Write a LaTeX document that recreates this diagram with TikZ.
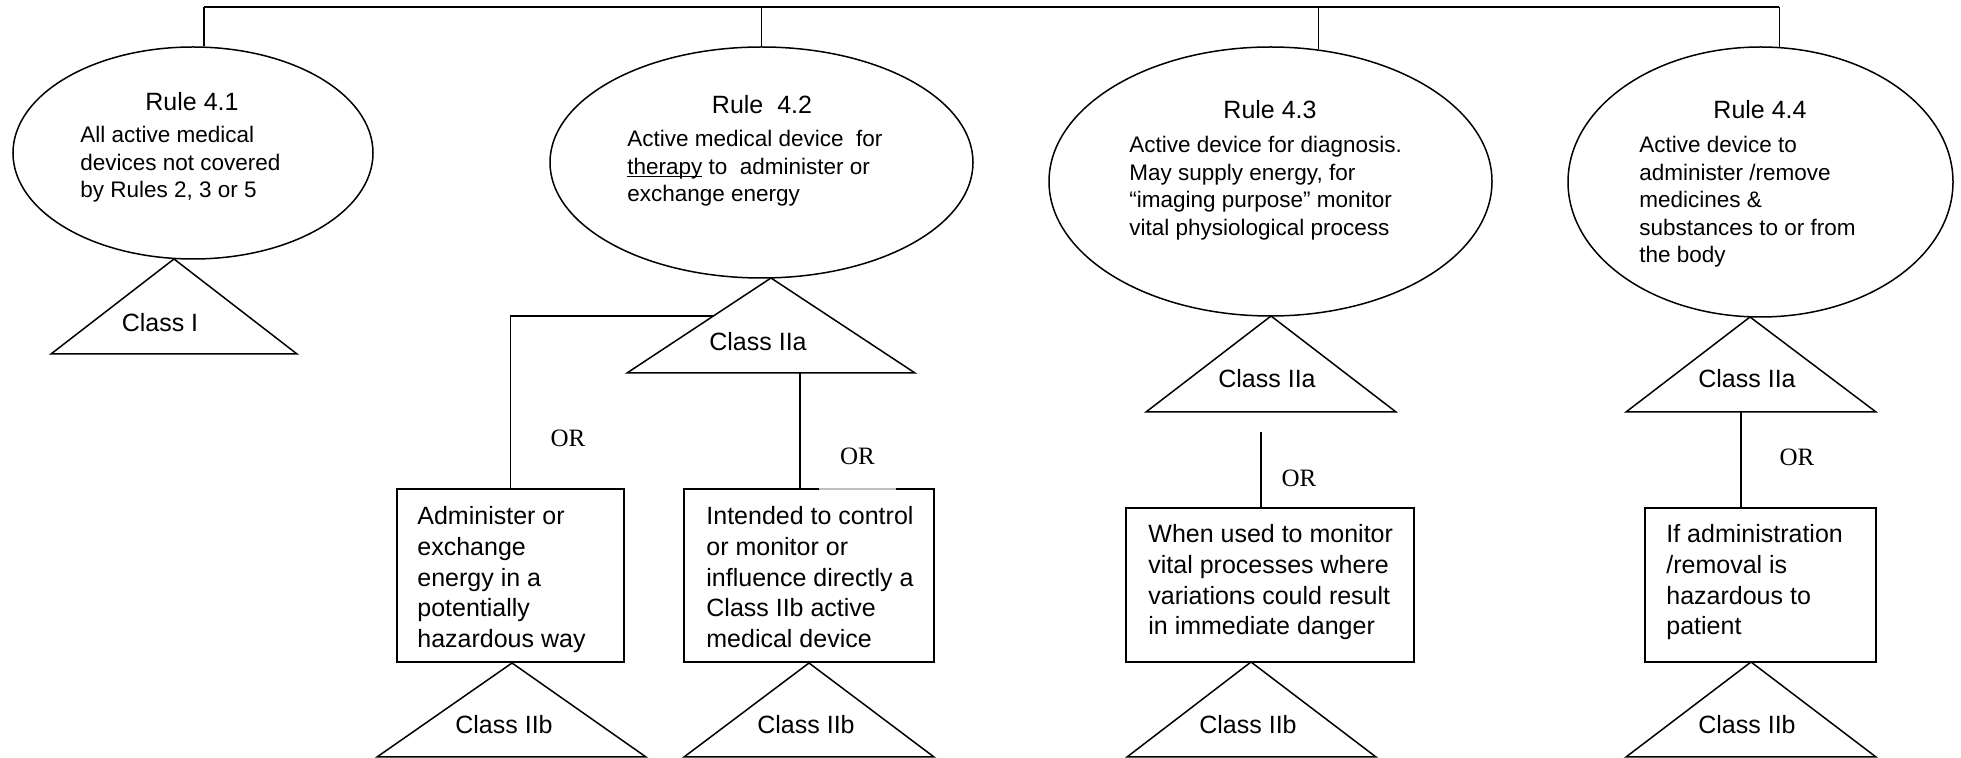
\documentclass[tikz,border=0pt]{standalone}
\usepackage{fontspec}
\setmainfont{Liberation Sans}
\newfontfamily\orfont{Liberation Serif}
\usetikzlibrary{shapes.geometric,calc}

\tikzset{
  link/.style={line width=0.75pt},
  busline/.style={line width=1.1pt},
  rulebubble/.style={draw, ellipse, line width=0.75pt, inner sep=0pt},
  outcome/.style={draw, rectangle, line width=0.75pt, inner sep=0pt},
  classtri/.style={draw, line width=0.75pt, line join=miter},
  ruletitle/.style={inner sep=0pt, anchor=base, font=\fontsize{12.5}{15}\selectfont},
  ruletext/.style={inner sep=0pt, anchor=base west, font=\fontsize{11.25}{13.75}\selectfont},
  boxtext/.style={inner sep=0pt, anchor=base west, font=\fontsize{12.5}{15.3}\selectfont},
  classname/.style={inner sep=0pt, anchor=base, font=\fontsize{12.5}{15}\selectfont},
  orword/.style={inner sep=0pt, anchor=base, font=\orfont\fontsize{12.5}{15}\selectfont},
}
% left-aligned block whose baseline is that of its first line
\newcommand\blocklines[1]{\parbox[t]{160pt}{\raggedright #1}}
% word underlined just below the baseline, crossing the descenders
\newcommand\wordline[1]{\leavevmode\setbox0\hbox{#1}\rlap{\rule[-1.3pt]{\wd0}{0.6pt}}#1}

\begin{document}
\begin{tikzpicture}[x=0.5pt, y=-0.5pt]
  \fill[white] (0,0) rectangle (1961,758);
  \useasboundingbox (0,0) rectangle (1961,758);

  % rule bubbles
  \node[rulebubble, minimum width=180pt,   minimum height=106pt]   (e1) at (193,153) {};
  \node[rulebubble, minimum width=211.5pt, minimum height=115.5pt] (e2) at (761.5,162.5) {};
  \node[rulebubble, minimum width=221.5pt, minimum height=134.5pt] (e3) at (1270.5,181.5) {};
  \node[rulebubble, minimum width=192.5pt, minimum height=135pt]   (e4) at (1760.5,182) {};

  % top bus and the drops to each rule
  \coordinate (busy) at (0,7);
  \draw[busline] (e1.84 |- busy) -- (e4.82 |- busy);
  \draw[link] (e1.84 |- busy) -- (e1.84);
  \draw[link] (e2.90 |- busy) -- (e2.90);
  \draw[link] (e3.70 |- busy) -- (e3.70);
  \draw[link] (e4.82 |- busy) -- (e4.82);

  % rule texts
  \node[ruletitle] (e1t) at (192,111) {Rule 4.1};
  \node[ruletext]  (e1b) at (80,143) {\blocklines{All active medical\\devices not covered\\by Rules 2, 3 or 5}};
  \node[ruletitle] (e2t) at (762,114) {Rule~~4.2};
  \node[ruletext]  (e2b) at (627,147) {\blocklines{Active medical device~~for\\\wordline{therapy} to~~administer or\\exchange energy}};
  \node[ruletitle] (e3t) at (1270,119) {Rule 4.3};
  \node[ruletext]  (e3b) at (1129,153) {\blocklines{Active device for diagnosis.\\May supply energy, for\\“imaging purpose” monitor\\vital physiological process}};
  \node[ruletitle] (e4t) at (1760,119) {Rule 4.4};
  \node[ruletext]  (e4b) at (1639,153) {\blocklines{Active device to\\administer /remove\\medicines \&\\substances to or from\\the body}};

  % class triangles under the rules
  \coordinate (t1) at (174,259);
  \coordinate (t2) at (771,278);
  \coordinate (t3) at (1271,316);
  \coordinate (t4) at (1750,317);
  \draw[classtri] (t1) -- ++(-123,95) -- ++(246,0) -- cycle;
  \draw[classtri] (t2) -- ++(-144,95) -- ++(288,0) -- cycle;
  \draw[classtri] (t3) -- ++(-125,96) -- ++(250,0) -- cycle;
  \draw[classtri] (t4) -- ++(-124,95) -- ++(250,0) -- cycle;
  \node[classname] (c1) at (160,332)  {Class I};
  \node[classname] (c2) at (758,351)  {Class IIa};
  \node[classname] (c3) at (1267,388) {Class IIa};
  \node[classname] (c4) at (1747,388) {Class IIa};

  % escalation boxes
  \node[outcome, minimum width=113.5pt, minimum height=86.5pt] (b1) at (510.5,575.5) {};
  \node[outcome, minimum width=125pt,   minimum height=86.5pt] (b2) at (809,575.5) {};
  \node[outcome, minimum width=144pt,   minimum height=77pt]   (b3) at (1270,585) {};
  \node[outcome, minimum width=115.5pt, minimum height=77pt]   (b4) at (1760.5,585) {};

  \node[boxtext] (b1x) at (417,525)  {\blocklines{Administer or\\exchange\\energy in a\\potentially\\hazardous way}};
  \node[boxtext] (b2x) at (706,525)  {\blocklines{Intended to control\\or monitor or\\influence directly a\\Class IIb active\\medical device}};
  \node[boxtext] (b3x) at (1148,543) {\blocklines{When used to monitor\\vital processes where\\variations could result\\in immediate danger}};
  \node[boxtext] (b4x) at (1666,543) {\blocklines{If administration\\/removal is\\hazardous to\\patient}};

  % stems from the Class IIa triangles to the boxes
  \coordinate (j2) at ($(t2)!0.4!(627,373)$);
  \draw[link] (j2) -| (b1.north);
  \coordinate (s2) at (800,373);
  \draw[link] (s2) -- (s2 |- b2.north);
  \coordinate (s3) at (1261,432);
  \draw[link] (s3) -- (s3 |- b3.north);
  \coordinate (s4) at (1741,412);
  \draw[link] (s4) -- (s4 |- b4.north);

  % OR labels
  \node[orword] (or1) at (568,447) {OR};
  \node[orword, fill=white, fill opacity=0.75, text opacity=1,
        minimum width=38.5pt, text depth=12.5pt] (or2) at (857.5,465) {OR};
  \node[orword] (or3) at (1299,487) {OR};
  \node[orword] (or4) at (1797,466) {OR};

  % Class IIb triangles under the boxes
  \coordinate (u1) at (512,663);
  \coordinate (u2) at (809,663);
  \coordinate (u3) at (1251,662);
  \coordinate (u4) at (1751,662);
  \draw[classtri] (u1) -- ++(-135,94) -- ++(269,0) -- cycle;
  \draw[classtri] (u2) -- ++(-125,94) -- ++(250,0) -- cycle;
  \draw[classtri] (u3) -- ++(-124,95) -- ++(249,0) -- cycle;
  \draw[classtri] (u4) -- ++(-125,95) -- ++(250,0) -- cycle;
  \node[classname] (d1) at (504,734)  {Class IIb};
  \node[classname] (d2) at (806,734)  {Class IIb};
  \node[classname] (d3) at (1248,734) {Class IIb};
  \node[classname] (d4) at (1747,734) {Class IIb};
\end{tikzpicture}
\end{document}
